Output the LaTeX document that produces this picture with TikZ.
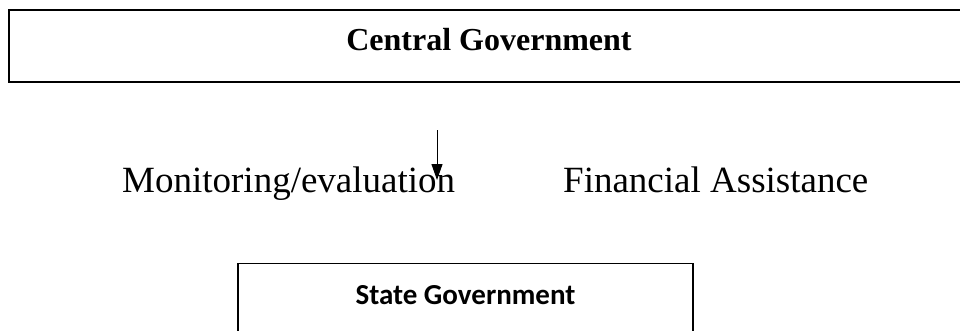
\documentclass[tikz,border=0pt]{standalone}
\usepackage{fontspec}
\setmainfont{Liberation Serif}
\newfontfamily\carlito{Carlito}
\usetikzlibrary{arrows.meta}

\begin{document}
\begin{tikzpicture}[x=1pt, y=-1pt,
        midtext/.style={anchor=base west, inner sep=0pt, font=\fontsize{37}{44}\selectfont}]
                \useasboundingbox (0,0) rectangle (960,330);
                \node [draw, line width=1.4pt, inner sep=0pt, minimum width=960pt, minimum height=72pt, text height=21pt, text depth=12pt, font=\fontsize{32}{38}\selectfont\bfseries] (0) at (489, 46) {Central Government};
                \node [midtext] (1) at (122, 192) {Monitoring/evaluation};
                \node [midtext] (2) at (563, 192) {Financial Assistance};
                \node [draw, line width=1.3pt, anchor=north, inner xsep=0pt, inner ysep=22pt, minimum width=455pt, text height=19pt, text depth=25pt, font=\carlito\bfseries\fontsize{29}{35}\selectfont] (3) at (465.5, 263) {State Government};
                \coordinate (4) at (437, 130);
                \coordinate (5) at (437, 180);
                \draw [-{Triangle[width=11pt, length=16pt]}, line width=0.9pt] (4) to (5);
\end{tikzpicture}
\end{document}
